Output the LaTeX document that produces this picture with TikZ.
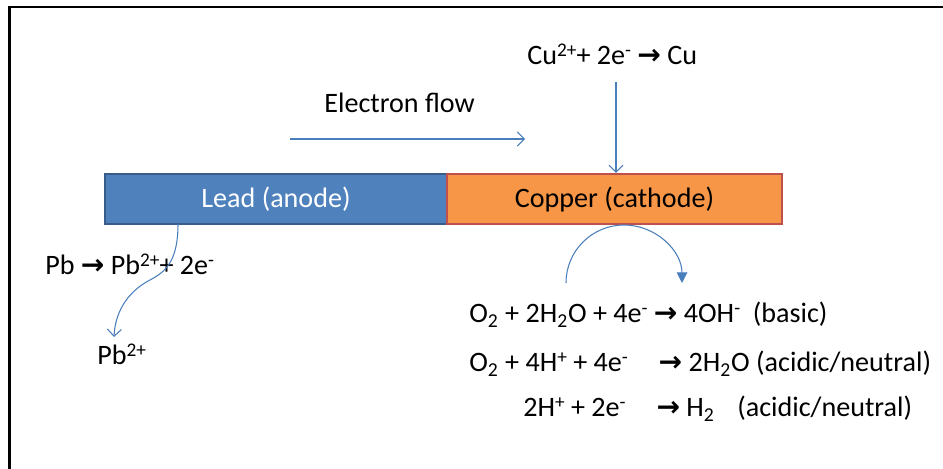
\documentclass[tikz,border=0pt]{standalone}
\usepackage{fontspec}
\setmainfont{Carlito}
\newfontfamily\arrowfont{DejaVu Sans}
\usetikzlibrary{arrows.meta}
\definecolor{leadblue}{HTML}{4F81BD}
\definecolor{leadedge}{HTML}{385D8A}
\definecolor{cuorange}{HTML}{F79646}
\definecolor{cuedge}{HTML}{C0504D}
\definecolor{flowblue}{HTML}{4A7EBB}
\newcommand{\rxnarrow}{{\arrowfont\bfseries →}}
\newcommand{\up}[1]{\raisebox{0.3em}{\fontsize{11}{11}\selectfont #1}}
\newcommand{\dn}[1]{\textsubscript{#1}}

\begin{document}
\begin{tikzpicture}[x=0.02cm, y=-0.02cm, font=\fontsize{16}{19}\selectfont,
  el/.style={draw, line width=1.2pt, minimum height=1cm, inner sep=0pt},
  flow/.style={flowblue, line width=0.6pt, -{Straight Barb[length=4pt, width=8pt]}},
  eq/.style={anchor=base west, inner sep=0pt}]
  \useasboundingbox (0,0) rectangle (943,469);
  \draw[line width=1.2pt] (9.5,469) -- (9.5,7) -- (943,7);
  % electrodes
  \node[el, draw=leadedge, fill=leadblue, text=white, minimum width=6.84cm] (lead) at (276,199) {Lead (anode)};
  \node[el, draw=cuedge, fill=cuorange, minimum width=6.7cm] (copper) at (614.5,199) {Copper (cathode)};
  % labels
  \node[eq] (cueq) at (527,65) {Cu\up{2+}+ 2e\up{-} \rxnarrow{} Cu};
  \node[eq] (eflow) at (324,113) {Electron flow};
  \node[eq] (pbeq) at (45,275) {Pb \rxnarrow{} Pb\up{2+}+ 2e\up{-}};
  \node[eq] (pbion) at (97,365) {Pb\up{2+}};
  \node[eq] (basic) at (469,323) {O\dn{2} + 2H\dn{2}O + 4e\up{-} \rxnarrow{} 4OH\up{-}\ \ (basic)};
  \node[eq] (acid) at (469,372) {O\dn{2} + 4H\up{+} + 4e\up{-}\hspace{1.1em}\rxnarrow{} 2H\dn{2}O (acidic/neutral)};
  \node[eq] (hyd) at (523,417) {2H\up{+} + 2e\up{-}\hspace{1.1em}\rxnarrow{} H\dn{2}\hspace{0.8em}(acidic/neutral)};
  % arrows
  \coordinate (ef1) at (290,139);
  \coordinate (ef2) at (525,139);
  \draw[flow] (ef1) -- (ef2);
  \coordinate (cutop) at (616,82);
  \draw[flow] (cutop) -- (cutop |- copper.north);
  \coordinate (pbstart) at (178,224);
  \coordinate (pbend) at (114,337);
  \draw[flow] (pbstart) .. controls (178,262) and (165,272) .. (150,280)
    .. controls (125,293) and (115,315) .. (pbend);
  \coordinate (arcl) at (566,283);
  \draw[flowblue, line width=0.6pt, -{Triangle[length=6pt, width=6pt]}] (arcl) arc[start angle=180, end angle=360, radius=58];
\end{tikzpicture}
\end{document}
